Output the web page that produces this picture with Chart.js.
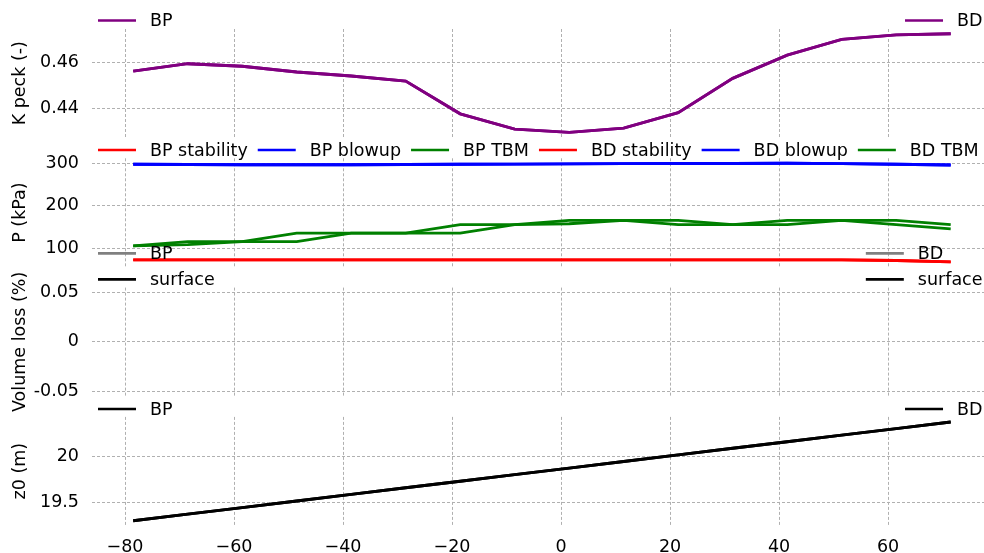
<!DOCTYPE html>
<html>
<head>
<meta charset="utf-8">
<script src="https://cdn.jsdelivr.net/npm/chart.js@4.4.1/dist/chart.umd.min.js"></script>
<style>
  html, body { margin: 0; padding: 0; background: #fff; overflow: hidden; }
  #wrap { position: relative; width: 984px; height: 553px; }
  #wrap canvas { position: absolute; left: 0; top: 0; }
</style>
</head>
<body>
<div id="wrap">
  <canvas id="kpeck" width="984" height="553"></canvas>
  <canvas id="pressure" width="984" height="553"></canvas>
  <canvas id="volume" width="984" height="553"></canvas>
  <canvas id="z0" width="984" height="553"></canvas>
</div>
<script>
// chainage of each ring (m)
const stations = [-78.5, -68.5, -58.5, -48.5, -38.5, -28.5, -18.5, -8.5, 1.5, 11.5, 21.5, 31.5, 41.5, 51.5, 61.5, 71.5];

const kPeck = [0.4562, 0.4594, 0.4583, 0.4558, 0.4541, 0.4519, 0.4378, 0.4312, 0.4298, 0.4316, 0.4383, 0.4531, 0.4631, 0.4699, 0.4718, 0.4723];

const stabilityBP = [72, 72, 72, 72, 72, 72, 72, 72, 72, 72, 72, 72, 72, 72, 70.5, 67.5];
const stabilityBD = [72, 72, 72, 72, 72, 72, 72, 72, 72, 72, 72, 72, 72, 72, 70.5, 67.5];
const blowupBP = [297, 296.5, 296, 296, 296, 296.5, 297, 297.5, 298, 298.5, 299, 299, 299.5, 298.5, 297, 295.5];
const blowupBD = [297, 296.5, 296, 296, 296, 296.5, 297, 297.5, 298, 298.5, 299, 299, 299.5, 298.5, 297, 295.5];
const tbmBP = [105, 115, 115, 135, 135, 135, 155, 155, 165, 165, 165, 155, 165, 165, 165, 155];
const tbmBD = [105, 108, 115, 115, 135, 135, 135, 155, 157, 165, 155, 155, 155, 165, 155, 145];

// volume loss: nothing visible is plotted in the source
const volumeBP = [];
const volumeBD = [];

const z0 = [19.307, 19.378, 19.448, 19.519, 19.589, 19.660, 19.730, 19.801, 19.871, 19.942, 20.012, 20.083, 20.153, 20.224, 20.294, 20.364];

const xTicks = [-80, -60, -40, -20, 0, 20, 40, 60];
const xLabels = ['\u221280', '\u221260', '\u221240', '\u221220', '0', '20', '40', '60'];
const kTicks = [0.44, 0.46];
const kLabels = ['0.44', '0.46'];
const pTicks = [100, 200, 300];
const pLabels = ['100', '200', '300'];
const vTicks = [-0.05, 0, 0.05];
const vLabels = ['-0.05', '0', '0.05'];
const zTicks = [19.5, 20];
const zLabels = ['19.5', '20'];

const FONT = '"DejaVu Sans", sans-serif';
const FONT_SIZE = 17.5;
const GRID = '#b0b0b0';

Chart.defaults.font.family = FONT;
Chart.defaults.font.size = FONT_SIZE;
Chart.defaults.color = '#000';

const pts = ys => ys.map((y, i) => ({ x: stations[i], y: y }));

const line = (label, values, color) => ({
    label: label,
    data: pts(values),
    borderColor: color,
    backgroundColor: color,
    borderWidth: 2.9,
    pointRadius: 0,
    tension: 0,
    fill: false
});

// matplotlib-like legends placed by hand next to each panel
const sideLegend = {
    id: 'sideLegend',
    afterDraw(chart, args, opts) {
        const ctx = chart.ctx;
        ctx.save();
        ctx.font = FONT_SIZE + 'px ' + FONT;
        ctx.textBaseline = 'middle';
        ctx.textAlign = 'left';
        const handle = (x, y, color) => {
            ctx.strokeStyle = color;
            ctx.lineWidth = 2.7;
            ctx.beginPath();
            ctx.moveTo(x, y);
            ctx.lineTo(x + 38, y);
            ctx.stroke();
        };
        (opts.blocks || []).forEach(b => {
            const sets = b.items.map(i => chart.data.datasets[i]);
            if (b.row) {
                let x = b.x;
                sets.forEach(ds => {
                    handle(x, b.y, ds.borderColor);
                    ctx.fillStyle = '#000';
                    ctx.fillText(ds.label, x + 52, b.y + 1);
                    x += 52 + ctx.measureText(ds.label).width + 10;
                });
                return;
            }
            let textX = b.x + 52;
            if (b.right !== undefined) {
                const w = Math.max(...sets.map(ds => ctx.measureText(ds.label).width));
                textX = b.right - w;
            }
            sets.forEach((ds, k) => {
                const y = b.y + k * 26;
                handle(textX - 52, y, ds.borderColor);
                ctx.fillStyle = '#000';
                ctx.fillText(ds.label, textX, y + 1);
            });
        });
        ctx.restore();
    }
};

const X_MIN = -86.06;
const X_MAX = 77.61;

function makePanel(id, cfg) {
    const ds = cfg.datasets;
    ds.forEach((d, i) => { d.order = ds.length - i; });
    return new Chart(document.getElementById(id), {
        type: 'line',
        data: { datasets: ds },
        options: {
            responsive: false,
            animation: false,
            events: [],
            layout: { padding: { top: cfg.top, bottom: cfg.bottom, left: 0, right: 0 } },
            plugins: {
                legend: { display: false },
                tooltip: { enabled: false },
                sideLegend: { blocks: cfg.legend }
            },
            scales: {
                x: {
                    type: 'linear',
                    min: X_MIN,
                    max: X_MAX,
                    afterBuildTicks: ax => { ax.ticks = xTicks.map(v => ({ value: v })); },
                    afterFit: ax => { ax.height = cfg.xHeight; },
                    grid: { color: GRID, lineWidth: 1, drawTicks: false },
                    border: { display: false, dash: [3, 2] },
                    ticks: {
                        display: cfg.showX,
                        padding: 12,
                        maxRotation: 0,
                        callback: (v, i) => xLabels[i]
                    }
                },
                y: {
                    type: 'linear',
                    min: cfg.yMin,
                    max: cfg.yMax,
                    afterBuildTicks: ax => { ax.ticks = cfg.yTicks.map(v => ({ value: v })); },
                    afterFit: ax => { ax.width = 92; },
                    title: { display: true, text: cfg.title, padding: { top: 10, bottom: 0 } },
                    grid: { color: GRID, lineWidth: 1, drawTicks: false },
                    border: { display: false, dash: [3, 2] },
                    ticks: { padding: 13, callback: (v, i) => cfg.yLabels[i] }
                }
            }
        },
        plugins: [sideLegend]
    });
}

makePanel('kpeck', {
    top: 29, bottom: 415.6, xHeight: 0, showX: false,
    yMin: 0.42763, yMax: 0.47435, yTicks: kTicks, yLabels: kLabels,
    title: 'K peck (-)',
    datasets: [
        line('BP', kPeck, '#800080'),
        line('BD', kPeck, '#800080')
    ],
    legend: [
        { items: [0], x: 98, y: 20.5 },
        { items: [1], right: 982.5, y: 20.5 }
    ]
});

makePanel('pressure', {
    top: 158.3, bottom: 286.2, xHeight: 0, showX: false,
    yMin: 55.8, yMax: 311.1, yTicks: pTicks, yLabels: pLabels,
    title: 'P (kPa)',
    datasets: [
        line('BP stability', stabilityBP, '#ff0000'),
        line('BP blowup', blowupBP, '#0000ff'),
        line('BP TBM', tbmBP, '#008000'),
        line('BD stability', stabilityBD, '#ff0000'),
        line('BD blowup', blowupBD, '#0000ff'),
        line('BD TBM', tbmBD, '#008000')
    ],
    legend: [
        { items: [0, 1, 2, 3, 4, 5], x: 98, y: 150, row: true }
    ]
});

makePanel('volume', {
    top: 287.6, bottom: 156.9, xHeight: 0, showX: false,
    yMin: -0.055, yMax: 0.055, yTicks: vTicks, yLabels: vLabels,
    title: 'Volume loss (%)',
    datasets: [
        line('BP', volumeBP, '#808080'),
        line('surface', volumeBP, '#000000'),
        line('BD', volumeBD, '#808080'),
        line('surface', volumeBD, '#000000')
    ],
    legend: [
        { items: [0, 1], x: 98, y: 253.3 },
        { items: [2, 3], right: 982.5, y: 253.3 }
    ]
});

makePanel('z0', {
    top: 416.9, bottom: 0, xHeight: 27.6, showX: true,
    yMin: 19.257, yMax: 20.419, yTicks: zTicks, yLabels: zLabels,
    title: 'z0 (m)',
    datasets: [
        line('BP', z0, '#000000'),
        line('BD', z0, '#000000')
    ],
    legend: [
        { items: [0], x: 98, y: 409 },
        { items: [1], right: 982.5, y: 409 }
    ]
});
</script>
</body>
</html>
